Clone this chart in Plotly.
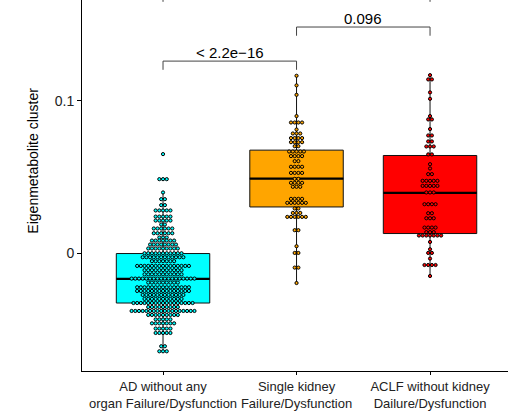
import plotly.graph_objects as go

# Group labels (x axis)
categories = [
    "AD without any<br>organ Failure/Dysfunction",
    "Single kidney<br>Failure/Dysfunction",
    "ACLF without kidney<br>Dailure/Dysfunction",
]
box_colors = ["#00FFFF", "#FFA500", "#FF0000"]

# Box statistics per group
q1 = [-0.0324, 0.0305, 0.0131]
median = [-0.0166, 0.0491, 0.0397]
q3 = [0.0000, 0.0677, 0.0642]
lower_whisker = [-0.0634, -0.0193, -0.0147]
upper_whisker = [0.0404, 0.1164, 0.1168]

# Dot-plot bins: bin centre (y) and number of samples in each bin
g1_y = [0.0651, 0.0487, 0.0400, 0.0356, 0.0317, 0.0282, 0.0242, 0.0216, 0.0190,
        0.0164, 0.0133, 0.0105, 0.0085, 0.0059, 0.0033, 0.0002, -0.0024, -0.0050,
        -0.0081, -0.0109, -0.0136, -0.0164, -0.0190, -0.0221, -0.0245, -0.0271,
        -0.0297, -0.0324, -0.0350, -0.0376, -0.0402, -0.0431, -0.0457, -0.0491,
        -0.0520, -0.0607, -0.0640]
g1_n = [1, 3, 1, 2, 2, 5, 5, 5, 2, 6, 6, 3, 7, 8, 9, 11, 12, 7, 15, 11, 11, 18,
        9, 15, 15, 12, 11, 17, 9, 18, 9, 5, 7, 5, 5, 2, 3]

g2_y = [0.1164, 0.1101, 0.1039, 0.0900, 0.0858, 0.0812, 0.0786, 0.0756, 0.0729,
        0.0703, 0.0668, 0.0638, 0.0605, 0.0568, 0.0528, 0.0489, 0.0463, 0.0437,
        0.0358, 0.0332, 0.0295, 0.0266, 0.0240, 0.0153, 0.0048, 0.0004, -0.0092,
        -0.0193]
g2_n = [1, 1, 1, 1, 4, 1, 3, 4, 4, 2, 5, 4, 2, 4, 4, 2, 4, 3, 4, 6, 2, 3, 6, 2,
        1, 2, 2, 1]

g3_y = [0.1168, 0.1140, 0.1055, 0.1013, 0.0900, 0.0878, 0.0815, 0.0773, 0.0734,
        0.0701, 0.0649, 0.0585, 0.0557, 0.0520, 0.0476, 0.0443, 0.0400, 0.0323,
        0.0264, 0.0231, 0.0170, 0.0140, 0.0118, 0.0076, 0.0028, 0.0004, -0.0033,
        -0.0075, -0.0147]
g3_n = [1, 2, 1, 1, 1, 2, 1, 2, 2, 3, 2, 1, 1, 2, 5, 5, 3, 4, 2, 3, 4, 3, 7, 1,
        1, 2, 1, 4, 1]

bins_y = [g1_y, g2_y, g3_y]
bins_n = [g1_n, g2_n, g3_n]

# Pairwise comparisons: (group a, group b, bracket height, p-value label)
comparisons = [
    (0, 1, 0.1260, "< 2.2e\u221216"),
    (1, 2, 0.1483, "0.096"),
    (0, 2, 0.1705, ""),
]

FONT = "Liberation Sans, Arial, sans-serif"
BOX_WIDTH = 0.7
DOT_STEP = 0.0277
BRACKET_TIP = 0.0057

fig = go.Figure()

for i in range(3):
    fig.add_trace(go.Box(
        x=[i], q1=[q1[i]], median=[median[i]], q3=[q3[i]],
        lowerfence=[lower_whisker[i]], upperfence=[upper_whisker[i]],
        width=BOX_WIDTH, whiskerwidth=0, boxpoints=False,
        fillcolor=box_colors[i], line=dict(color="#111111", width=1),
        hoverinfo="skip", showlegend=False,
    ))
    # thicker median bar
    fig.add_trace(go.Scatter(
        x=[i - BOX_WIDTH / 2, i + BOX_WIDTH / 2], y=[median[i], median[i]],
        mode="lines", line=dict(color="black", width=2.2),
        hoverinfo="skip", showlegend=False,
    ))

# centred dot stacks
for i in range(3):
    xs, ys = [], []
    for yv, n in zip(bins_y[i], bins_n[i]):
        for k in range(n):
            xs.append(i + (k - (n - 1) / 2) * DOT_STEP)
            ys.append(yv)
    fig.add_trace(go.Scatter(
        x=xs, y=ys, mode="markers",
        marker=dict(size=3.2, color=box_colors[i],
                    line=dict(color="black", width=1)),
        hoverinfo="skip", showlegend=False,
    ))

# significance brackets
for a, b, h, label in comparisons:
    fig.add_trace(go.Scatter(
        x=[a, a, b, b], y=[h - BRACKET_TIP, h, h, h - BRACKET_TIP],
        mode="lines", line=dict(color="#444444", width=1),
        hoverinfo="skip", showlegend=False,
    ))
    if label:
        fig.add_annotation(
            x=(a + b) / 2, y=h, xref="x", yref="y", text=label,
            showarrow=False, yanchor="bottom", yshift=-2,
            font=dict(family=FONT, size=15, color="black"),
        )

fig.add_annotation(
    text="Eigenmetabolite cluster", textangle=-90,
    xref="paper", yref="paper", x=0, y=0.567,
    xanchor="right", yanchor="middle", xshift=-39, showarrow=False,
    font=dict(family=FONT, size=14, color="black"),
)

fig.update_layout(
    width=508, height=417,
    margin=dict(l=82, r=0, t=0, b=46),
    paper_bgcolor="white", plot_bgcolor="white",
    font=dict(family=FONT, color="black"),
    xaxis=dict(
        range=[-0.607, 2.584], tickvals=[0, 1, 2], ticktext=categories,
        showline=True, linecolor="black", linewidth=1,
        ticks="outside", ticklen=3, tickcolor="black",
        showgrid=False, zeroline=False,
        tickfont=dict(family=FONT, size=13, color="#222222"),
    ),
    yaxis=dict(
        range=[-0.0769, 0.166], tickvals=[0, 0.1], ticktext=["0", "0.1"],
        showline=True, linecolor="black", linewidth=1,
        ticks="outside", ticklen=4, tickcolor="black",
        showgrid=False, zeroline=False,
        tickfont=dict(family=FONT, size=14, color="#222222"),
    ),
)

fig.write_html("out.html")
